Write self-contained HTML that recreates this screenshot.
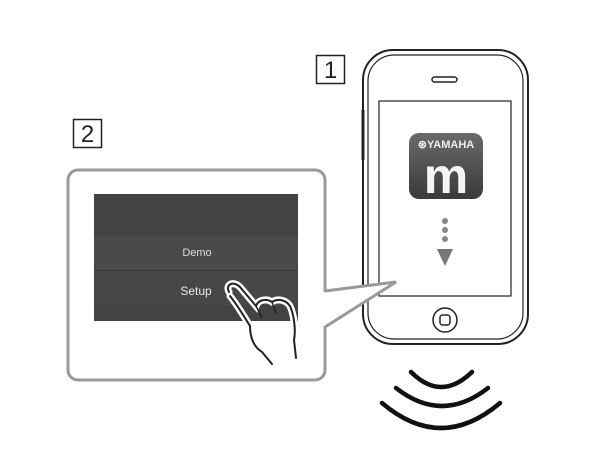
<!DOCTYPE html>
<html><head><style>
html,body{margin:0;padding:0;background:#fff;width:600px;height:460px;overflow:hidden}
</style></head><body>
<svg width="600" height="460" viewBox="0 0 600 460" xmlns="http://www.w3.org/2000/svg" font-family="Liberation Sans, sans-serif">
<defs>
<linearGradient id="ic" x1="0" y1="0" x2="0" y2="1"><stop offset="0" stop-color="#6a6a6a"/><stop offset="1" stop-color="#3a3a3a"/></linearGradient>
</defs>
<rect x="316.5" y="55.5" width="28" height="28" fill="#fff" stroke="#222" stroke-width="1.5"/>
<text x="330.5" y="78" font-size="24" text-anchor="middle" fill="#222">1</text>
<rect x="73.5" y="119.5" width="28" height="28" fill="#fff" stroke="#222" stroke-width="1.5"/>
<text x="87.5" y="142" font-size="24" text-anchor="middle" fill="#222">2</text>
<rect x="363" y="50" width="165" height="294" rx="30" fill="#fff" stroke="#222" stroke-width="2"/>
<rect x="368" y="55" width="155" height="284" rx="26" fill="none" stroke="#222" stroke-width="1.2"/>
<rect x="379" y="101" width="132" height="195" fill="#fff" stroke="#222" stroke-width="1.2"/>
<rect x="432" y="77" width="25" height="5" rx="2.5" fill="none" stroke="#222" stroke-width="1.5"/>
<circle cx="445" cy="320" r="12" fill="none" stroke="#222" stroke-width="1.5"/>
<rect x="440" y="315" width="10" height="10" rx="2.5" fill="none" stroke="#222" stroke-width="1.5"/>
<line x1="363" y1="110" x2="363" y2="160" stroke="#222" stroke-width="3"/>
<rect x="409" y="133" width="74" height="66" rx="10" fill="url(#ic)"/>
<text x="446" y="148" font-size="11" font-weight="bold" text-anchor="middle" fill="#eee">⊛YAMAHA</text>
<text x="446" y="193" font-size="50" font-weight="bold" text-anchor="middle" fill="#f4f4f4">m</text>
<circle cx="445" cy="221" r="3" fill="#888"/>
<circle cx="445" cy="230" r="3" fill="#888"/>
<circle cx="445" cy="239" r="3" fill="#888"/>
<polygon points="437,249 453,249 445,266" fill="#777"/>
<rect x="68" y="170" width="257" height="210" rx="10" fill="#fff" stroke="#999" stroke-width="3"/>
<polyline points="325,291 396,282 325,327" fill="#fff" stroke="#999" stroke-width="3"/>
<line x1="323" y1="292" x2="323" y2="326" stroke="#fff" stroke-width="4"/>
<rect x="94" y="194" width="204" height="127" fill="#434343"/>
<rect x="94" y="236" width="204" height="34" fill="#4a4a4a"/>
<rect x="94" y="271" width="204" height="34" fill="#474747"/>
<line x1="94" y1="270.5" x2="298" y2="270.5" stroke="#3a3a3a"/>
<text x="197" y="256" font-size="11" text-anchor="middle" fill="#ddd">Demo</text>
<text x="196" y="295" font-size="12" text-anchor="middle" fill="#e8e8e8">Setup</text>
<path d="M229,292 C225,285 233,280 240,287 L256,306 C258,300 266,298 272,302 C278,298 286,300 290,306 C294,315 296,330 294,340 L296,358 M230,296 C238,306 245,318 250,326 C250,334 252,346 262,352 L272,364" fill="none" stroke="#fff" stroke-width="7" stroke-linecap="round"/>
<path d="M229,292 C225,285 233,280 240,287 L256,306 C258,300 266,298 272,302 C278,298 286,300 290,306 C294,315 296,330 294,340 L296,358 M230,296 C238,306 245,318 250,326 C250,334 252,346 262,352 L272,364" fill="none" stroke="#222" stroke-width="2" stroke-linecap="round"/>
<path d="M256,306 L262,318 M272,302 L276,314" fill="none" stroke="#222" stroke-width="1.5"/>
<path d="M411,372 Q441,402 472,372" fill="none" stroke="#111" stroke-width="4.5" stroke-linecap="round"/>
<path d="M396,388 Q442,424 488,388" fill="none" stroke="#111" stroke-width="4.5" stroke-linecap="round"/>
<path d="M382,403 Q441,453 500,403" fill="none" stroke="#111" stroke-width="4.5" stroke-linecap="round"/>
</svg>
</body></html>
